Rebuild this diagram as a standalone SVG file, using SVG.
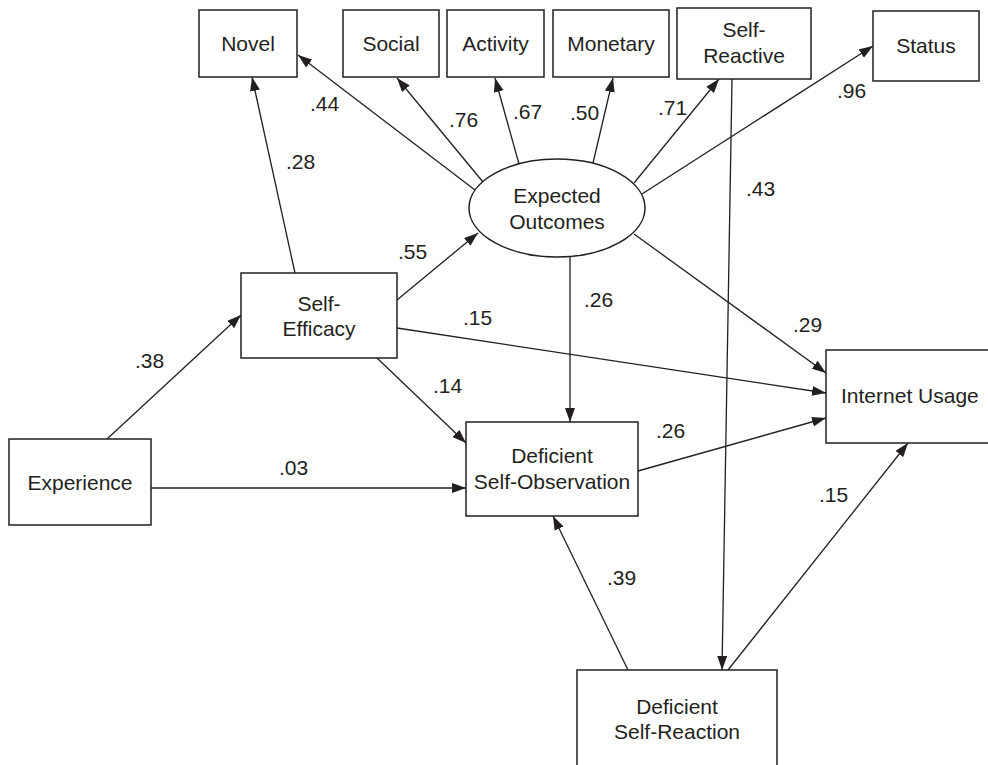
<svg xmlns="http://www.w3.org/2000/svg" width="988" height="765" viewBox="0 0 988 765">
<defs>
<marker id="ah" markerUnits="userSpaceOnUse" markerWidth="15" markerHeight="11" refX="14" refY="5" orient="auto">
<path d="M0,0 L14,5 L0,10 z" fill="#231f20"/>
</marker>
<style>
.n rect, .n ellipse { fill: #fff; stroke: #231f20; stroke-width: 1.5; }
text { font-family: "Liberation Sans", Arial, sans-serif; font-size: 21px; fill: #231f20; }
.n text { text-anchor: middle; }
.c line { stroke: #231f20; stroke-width: 1.3; fill: none; }
.c line.a { marker-end: url(#ah); }
</style>
</defs>
<rect width="988" height="765" fill="#fff"/>
<g class="c" id="connectors">
<line class="a" x1="295" y1="273" x2="252" y2="77"/>
<line class="a" x1="475" y1="190" x2="298" y2="55"/>
<line class="a" x1="483" y1="182" x2="397" y2="78"/>
<line class="a" x1="519" y1="164" x2="495" y2="78"/>
<line class="a" x1="593" y1="163" x2="613" y2="78"/>
<line class="a" x1="634" y1="183" x2="719" y2="79"/>
<line class="a" x1="642" y1="194" x2="873" y2="46"/>
<line class="a" x1="732" y1="79" x2="722" y2="670"/>
<line class="a" x1="397" y1="300" x2="478" y2="233"/>
<line class="a" x1="397" y1="328" x2="826" y2="393"/>
<line class="a" x1="377" y1="358" x2="466" y2="443"/>
<line class="a" x1="107" y1="439" x2="241" y2="315"/>
<line class="a" x1="151" y1="488" x2="466" y2="488"/>
<line class="a" x1="570" y1="257" x2="570" y2="422"/>
<line class="a" x1="634" y1="234" x2="826" y2="373"/>
<line class="a" x1="638" y1="471" x2="826" y2="418"/>
<line class="a" x1="628" y1="670" x2="553" y2="516"/>
<line class="a" x1="728" y1="670" x2="908" y2="443"/>
<g id="labels">
<text x="310" y="111">.44</text>
<text x="449" y="127">.76</text>
<text x="513" y="119">.67</text>
<text x="570" y="120">.50</text>
<text x="658" y="115">.71</text>
<text x="837" y="98">.96</text>
<text x="746" y="196">.43</text>
<text x="286" y="169">.28</text>
<text x="398" y="259">.55</text>
<text x="463" y="325">.15</text>
<text x="135" y="368">.38</text>
<text x="433" y="393">.14</text>
<text x="279" y="475">.03</text>
<text x="584" y="307">.26</text>
<text x="793" y="332">.29</text>
<text x="656" y="438">.26</text>
<text x="819" y="502">.15</text>
<text x="607" y="585">.39</text>
</g>
</g>
<g class="n" id="novel"><rect x="199" y="10" width="98" height="67"/><text x="248" y="51">Novel</text></g>
<g class="n" id="social"><rect x="343" y="10" width="96" height="67"/><text x="391" y="51">Social</text></g>
<g class="n" id="activity"><rect x="447" y="10" width="97" height="67"/><text x="495.5" y="51">Activity</text></g>
<g class="n" id="monetary"><rect x="553" y="10" width="116" height="67"/><text x="611" y="51">Monetary</text></g>
<g class="n" id="self-reactive"><rect x="677" y="8" width="134" height="71"/><text x="744" y="37">Self-</text><text x="744" y="63">Reactive</text></g>
<g class="n" id="status"><rect x="873" y="11" width="106" height="70"/><text x="926" y="53">Status</text></g>
<g class="n" id="expected-outcomes"><ellipse cx="557" cy="208" rx="88" ry="49"/><text x="557" y="203">Expected</text><text x="557" y="229">Outcomes</text></g>
<g class="n" id="self-efficacy"><rect x="241" y="273" width="156" height="85"/><text x="319" y="311">Self-</text><text x="319" y="336">Efficacy</text></g>
<g class="n" id="experience"><rect x="9" y="439" width="142" height="86"/><text x="80" y="490">Experience</text></g>
<g class="n" id="deficient-self-observation"><rect x="466" y="422" width="172" height="94"/><text x="552" y="463">Deficient</text><text x="552" y="489">Self-Observation</text></g>
<g class="n" id="internet-usage"><rect x="826" y="350" width="175" height="93"/><text x="841" y="403" style="text-anchor:start">Internet Usage</text></g>
<g class="n" id="deficient-self-reaction"><rect x="577" y="670" width="200" height="110"/><text x="677" y="714">Deficient</text><text x="677" y="739">Self-Reaction</text></g>
</svg>
